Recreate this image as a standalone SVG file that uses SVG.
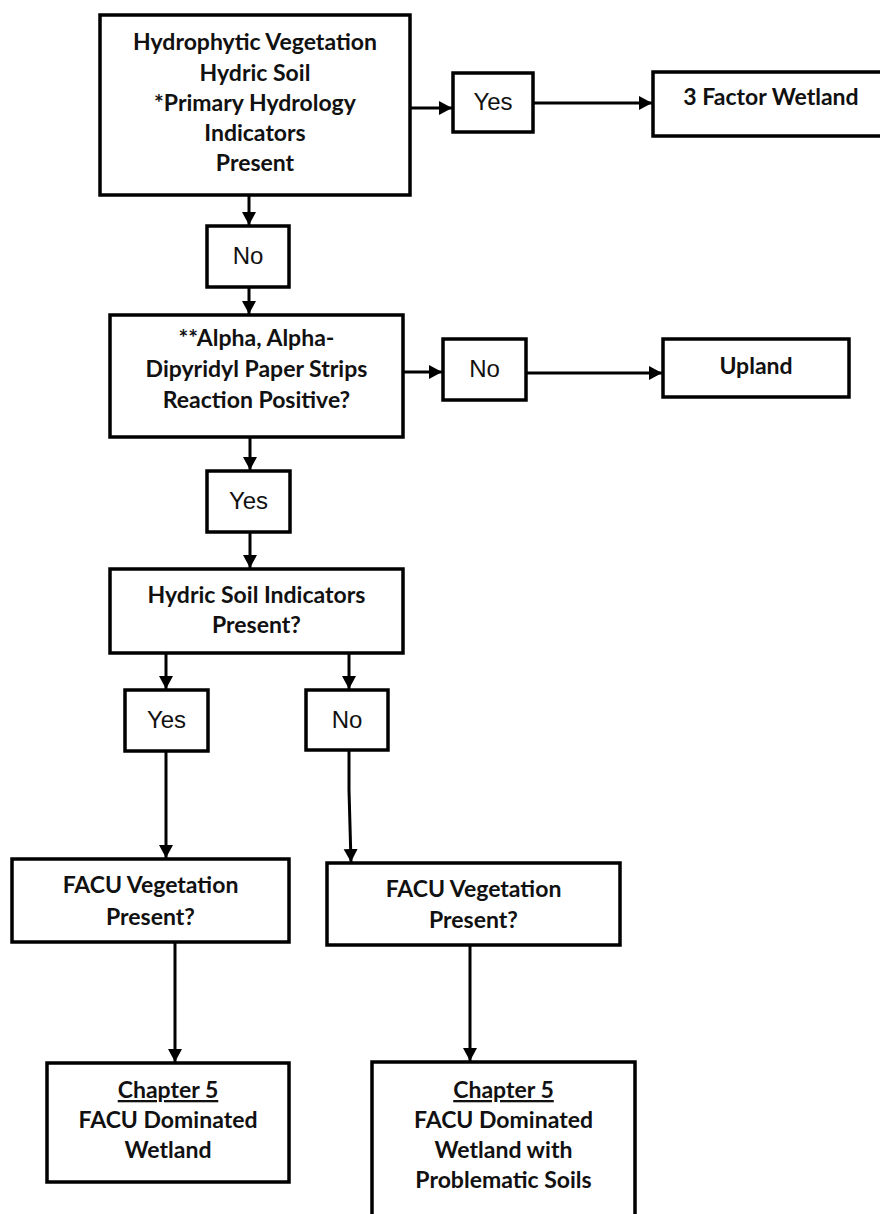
<svg xmlns="http://www.w3.org/2000/svg" width="880" height="1214" viewBox="0 0 880 1214">
<defs>
<style>
.box{fill:#fff;stroke:#000;stroke-width:3.5}
.t{font-family:Lato,"Open Sans",sans-serif;font-weight:bold;font-size:23px;fill:#111;text-anchor:middle}
.a{font-family:"Liberation Sans",Arial,sans-serif;font-size:24px;fill:#111;text-anchor:middle}
.c{stroke:#000;stroke-width:3;fill:none;marker-end:url(#ah)}
.u{text-decoration:underline}
</style>
<marker id="ah" markerUnits="userSpaceOnUse" markerWidth="15" markerHeight="15" refX="13" refY="7" orient="auto">
<path d="M0,0 L13,7 L0,14 Z" fill="#000"/>
</marker>
</defs>
<rect width="880" height="1214" fill="#fff"/>
<g id="connectors">
<line class="c" x1="410" y1="108" x2="452" y2="108"/>
<line class="c" x1="533" y1="103" x2="652" y2="103" stroke-width="2.2"/>
<line class="c" x1="249" y1="195" x2="249" y2="225"/>
<line class="c" x1="249" y1="287" x2="249" y2="314"/>
<line class="c" x1="403" y1="372" x2="442" y2="372"/>
<line class="c" x1="526" y1="373" x2="662" y2="373" stroke-width="2.2"/>
<line class="c" x1="250" y1="437" x2="250" y2="470"/>
<line class="c" x1="250" y1="532" x2="250" y2="568"/>
<line class="c" x1="166" y1="653" x2="166" y2="689"/>
<line class="c" x1="349" y1="653" x2="349" y2="689"/>
<line class="c" x1="166" y1="751" x2="166" y2="858"/>
<polyline class="c" points="349,750 349,790 351,862"/>
<line class="c" x1="175" y1="942" x2="175" y2="1062"/>
<line class="c" x1="470" y1="945" x2="470" y2="1061"/>
</g>
<g id="n1"><rect class="box" x="100" y="15" width="310" height="180"/>
<text class="t" x="255" y="50">Hydrophytic Vegetation</text>
<text class="t" x="255" y="81">Hydric Soil</text>
<text class="t" x="255" y="111">*Primary Hydrology</text>
<text class="t" x="255" y="141">Indicators</text>
<text class="t" x="255" y="171">Present</text></g>
<g id="yes1"><rect class="box" x="453" y="73" width="80" height="59"/><text class="a" x="493" y="110">Yes</text></g>
<g id="wetland3"><rect class="box" x="653" y="72" width="236" height="64"/><text class="t" x="771" y="105">3 Factor Wetland</text></g>
<g id="no1"><rect class="box" x="207" y="226" width="82" height="61"/><text class="a" x="248" y="264">No</text></g>
<g id="n2"><rect class="box" x="110" y="315" width="293" height="122"/>
<text class="t" x="256.5" y="346">**Alpha, Alpha-</text>
<text class="t" x="256.5" y="377">Dipyridyl Paper Strips</text>
<text class="t" x="256.5" y="408">Reaction Positive?</text></g>
<g id="no2"><rect class="box" x="443" y="339" width="83" height="61"/><text class="a" x="484.5" y="377">No</text></g>
<g id="upland"><rect class="box" x="663" y="339" width="186" height="58"/><text class="t" x="756" y="374">Upland</text></g>
<g id="yes2"><rect class="box" x="207" y="471" width="83" height="61"/><text class="a" x="248.5" y="509">Yes</text></g>
<g id="n3"><rect class="box" x="110" y="569" width="293" height="84"/>
<text class="t" x="256.5" y="603">Hydric Soil Indicators</text>
<text class="t" x="256.5" y="633">Present?</text></g>
<g id="yes3"><rect class="box" x="125" y="690" width="83" height="61"/><text class="a" x="166.5" y="728">Yes</text></g>
<g id="no3"><rect class="box" x="306" y="690" width="82" height="60"/><text class="a" x="347" y="728">No</text></g>
<g id="facu1"><rect class="box" x="12" y="859" width="277" height="83"/>
<text class="t" x="150.5" y="893">FACU Vegetation</text>
<text class="t" x="150.5" y="925">Present?</text></g>
<g id="facu2"><rect class="box" x="327" y="863" width="293" height="82"/>
<text class="t" x="473.5" y="897">FACU Vegetation</text>
<text class="t" x="473.5" y="928">Present?</text></g>
<g id="ch1"><rect class="box" x="47" y="1063" width="242" height="119"/>
<text class="t u" x="168" y="1098">Chapter 5</text>
<text class="t" x="168" y="1128">FACU Dominated</text>
<text class="t" x="168" y="1158">Wetland</text></g>
<g id="ch2"><rect class="box" x="372" y="1062" width="263" height="170"/>
<text class="t u" x="503.5" y="1098">Chapter 5</text>
<text class="t" x="503.5" y="1128">FACU Dominated</text>
<text class="t" x="503.5" y="1158">Wetland with</text>
<text class="t" x="503.5" y="1188">Problematic Soils</text></g>
</svg>
